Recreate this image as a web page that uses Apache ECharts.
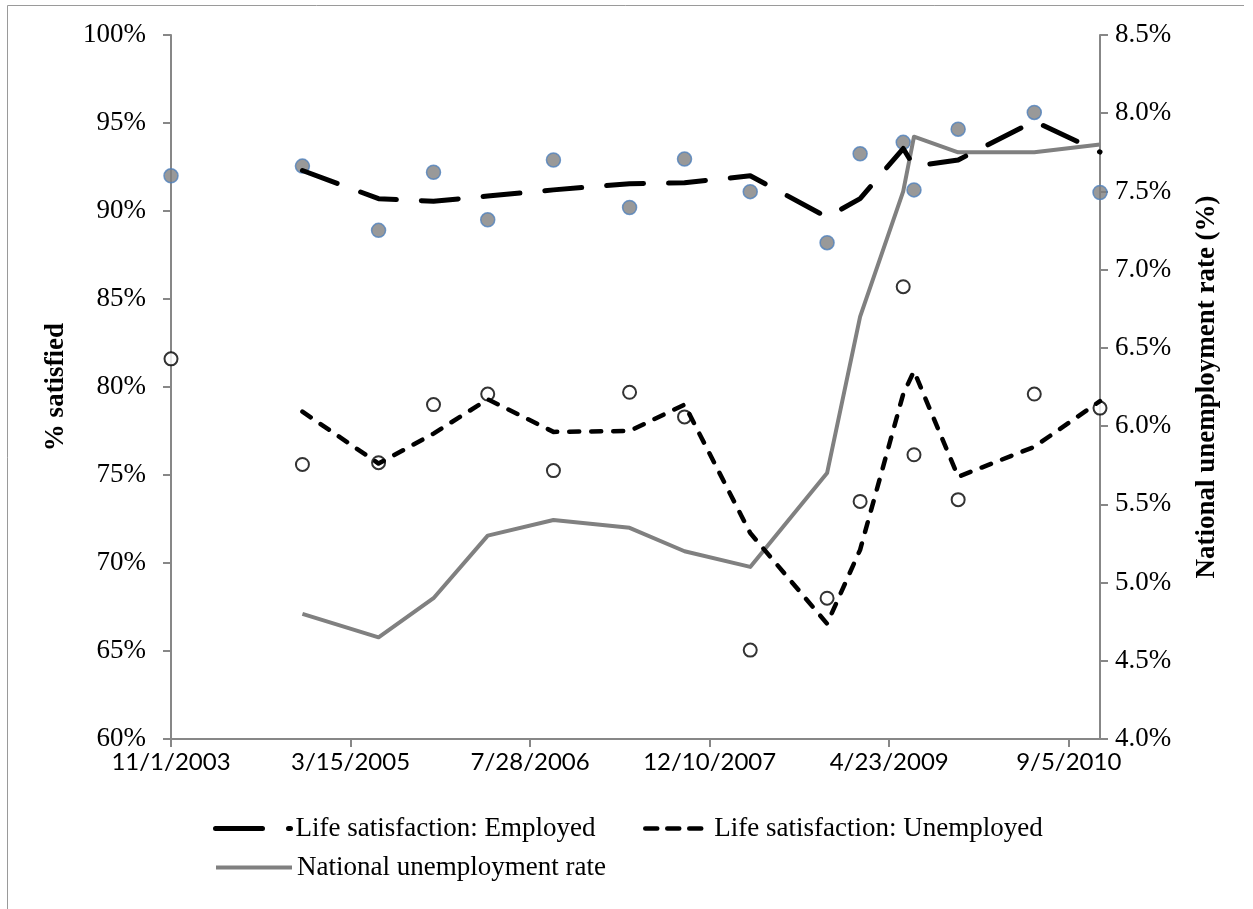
<!DOCTYPE html>
<html>
<head>
<meta charset="utf-8">
<title>Life satisfaction and unemployment</title>
<script src="https://cdn.jsdelivr.net/npm/echarts@6/dist/echarts.min.js"></script>
<style>
  html, body { margin: 0; padding: 0; background: #ffffff; }
  #chart { width: 1253px; height: 909px; }
</style>
</head>
<body>
<div id="chart"></div>
<script>
// Survey dates (ISO) for each poll
const surveyDates = [
  '2003-11-01', '2004-11-01', '2005-06-01', '2005-11-01', '2006-04-01', '2006-10-01',
  '2007-05-01', '2007-10-01', '2008-04-01', '2008-11-01', '2009-02-01', '2009-06-01',
  '2009-07-01', '2009-11-01', '2010-06-01', '2010-12-01'
];

// % satisfied with life, by employment status
const employedPct = [92.0, 92.55, 88.9, 92.2, 89.5, 92.9, 90.2, 92.95, 91.1, 88.2, 93.25, 93.9, 91.2, 94.65, 95.6, 91.05];
const unemployedPct = [81.6, 75.6, 75.7, 79.0, 79.6, 75.25, 79.7, 78.3, 65.05, 68.0, 73.5, 85.7, 76.15, 73.6, 79.6, 78.8];

// Two-period moving averages (from the second survey onward)
const employedTrend = [92.3, 90.7, 90.55, 90.85, 91.2, 91.55, 91.6, 92.0, 89.65, 90.7, 93.55, 92.55, 92.9, 95.1, 93.35];
const unemployedTrend = [78.6, 75.65, 77.35, 79.3, 77.45, 77.5, 79.0, 71.7, 66.55, 70.75, 79.6, 80.9, 74.9, 76.6, 79.2];

// National unemployment rate (%) at each survey from the second onward
const unemploymentRate = [4.8, 4.65, 4.9, 5.3, 5.4, 5.35, 5.2, 5.1, 5.7, 6.7, 7.5, 7.85, 7.75, 7.75, 7.8];

// Axis settings
const leftTicks = { min: 60, max: 100, step: 5 };
const rightTicks = { min: 4.0, max: 8.5, step: 0.5 };
const dateStepDays = 500;

// Dates are plotted as days elapsed since the first survey
const DAY = 86400000;
const origin = Date.parse(surveyDates[0] + 'T00:00:00Z');
const dayIndex = s => Math.round((Date.parse(s + 'T00:00:00Z') - origin) / DAY);
const xs = surveyDates.map(dayIndex);
const lastDay = xs[xs.length - 1];

function fmtDate(d) {
  const t = new Date(origin + d * DAY);
  return (t.getUTCMonth() + 1) + '/' + t.getUTCDate() + '/' + t.getUTCFullYear();
}

const pairs = (vals, offset) => vals.map((v, i) => [xs[i + offset], v]);

const serif = 'Liberation Serif';
const axisGray = '#878787';

// Legend entries show only the line sample (no marker)
const legendBase = {
  itemHeight: 1,
  padding: 0,
  itemStyle: { opacity: 0 },
  textStyle: { fontFamily: serif, fontSize: 27, color: '#000' }
};

const chart = echarts.init(document.getElementById('chart'), null, { renderer: 'canvas' });

chart.setOption({
  backgroundColor: '#ffffff',
  animation: false,
  graphic: [{
    type: 'polyline',
    shape: { points: [[1244, 5.5], [7.5, 5.5], [7.5, 930]] },
    style: { fill: 'none', stroke: '#9a9a9a', lineWidth: 1 },
    silent: true
  }],
  grid: { left: 171, right: 153, top: 35, bottom: 170, containLabel: false },
  legend: [
    Object.assign({}, legendBase, {
      data: ['Life satisfaction: Employed'],
      left: 213, top: 815, itemWidth: 75,
      lineStyle: { type: [47, 26], cap: 'round', width: 5 }
    }),
    Object.assign({}, legendBase, {
      data: ['Life satisfaction: Unemployed'],
      left: 643, top: 815, itemWidth: 64,
      lineStyle: { type: [12, 10], cap: 'round', width: 4.5 }
    }),
    Object.assign({}, legendBase, {
      data: ['National unemployment rate'],
      left: 214, top: 854, itemWidth: 76,
      lineStyle: { width: 4 }
    })
  ],
  xAxis: {
    type: 'value',
    min: 0,
    max: lastDay,
    interval: dateStepDays,
    axisLine: { show: true, lineStyle: { color: axisGray, width: 2 } },
    axisTick: { show: true, inside: false, length: 8, lineStyle: { color: axisGray, width: 2 } },
    splitLine: { show: false },
    axisLabel: {
      showMaxLabel: false,
      margin: 11,
      fontFamily: 'Lato', fontSize: 24, color: '#000',
      formatter: v => (v % dateStepDays === 0 ? fmtDate(v) : '')
    }
  },
  yAxis: [
    {
      type: 'value',
      min: leftTicks.min, max: leftTicks.max, interval: leftTicks.step,
      position: 'left',
      name: '% satisfied',
      nameLocation: 'middle',
      nameRotate: 90,
      nameGap: 101,
      nameTextStyle: { fontFamily: serif, fontSize: 27, fontWeight: 'bold', color: '#000' },
      axisLine: { show: true, lineStyle: { color: axisGray, width: 2 } },
      axisTick: { show: true, inside: false, length: 8, lineStyle: { color: axisGray, width: 2 } },
      splitLine: { show: false },
      axisLabel: { margin: 25, fontFamily: serif, fontSize: 27, color: '#000', formatter: '{value}%' }
    },
    {
      type: 'value',
      min: rightTicks.min, max: rightTicks.max, interval: rightTicks.step,
      position: 'right',
      name: 'National unemployment rate (%)',
      nameLocation: 'middle',
      nameRotate: 90,
      nameGap: 94,
      nameTextStyle: { fontFamily: serif, fontSize: 27, fontWeight: 'bold', color: '#000' },
      axisLine: { show: true, lineStyle: { color: axisGray, width: 2 } },
      axisTick: { show: true, inside: false, length: 8, lineStyle: { color: axisGray, width: 2 } },
      splitLine: { show: false },
      axisLabel: { margin: 15, fontFamily: serif, fontSize: 27, color: '#000', formatter: v => v.toFixed(1) + '%' }
    }
  ],
  series: [
    {
      name: 'Employed (survey)',
      type: 'scatter',
      yAxisIndex: 0,
      data: pairs(employedPct, 0),
      symbol: 'circle',
      symbolSize: 14,
      itemStyle: { color: '#7f7f7f', borderColor: '#4f81bd', borderWidth: 1.5 },
      z: 2
    },
    {
      name: 'Unemployed (survey)',
      type: 'scatter',
      yAxisIndex: 0,
      data: pairs(unemployedPct, 0),
      symbol: 'circle',
      symbolSize: 13,
      itemStyle: { color: '#ffffff', borderColor: '#000000', borderWidth: 2 },
      z: 2
    },
    {
      name: 'National unemployment rate',
      type: 'line',
      yAxisIndex: 1,
      data: pairs(unemploymentRate, 1),
      symbol: 'none',
      lineStyle: { color: '#808080', width: 4, join: 'round' },
      itemStyle: { color: '#808080' },
      z: 3
    },
    {
      name: 'Life satisfaction: Employed',
      type: 'line',
      yAxisIndex: 0,
      data: pairs(employedTrend, 1),
      symbol: 'none',
      lineStyle: { color: '#000000', width: 5, type: [37, 25], cap: 'round', join: 'round' },
      itemStyle: { color: '#000000' },
      z: 4
    },
    {
      name: 'Life satisfaction: Unemployed',
      type: 'line',
      yAxisIndex: 0,
      data: pairs(unemployedTrend, 1),
      symbol: 'none',
      lineStyle: { color: '#000000', width: 4.5, type: [10, 12], cap: 'round', join: 'round' },
      itemStyle: { color: '#000000' },
      z: 4
    }
  ]
});
</script>
</body>
</html>
